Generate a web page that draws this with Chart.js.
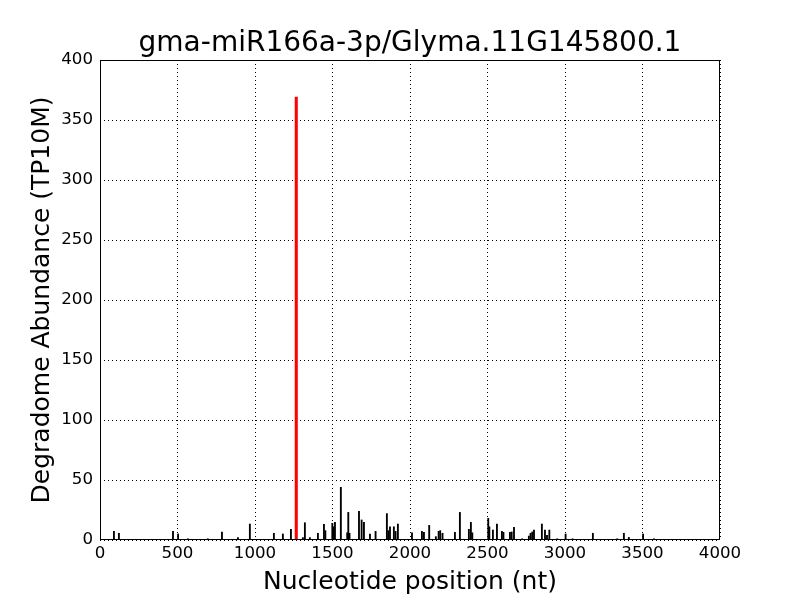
<!DOCTYPE html>
<html>
<head>
<meta charset="utf-8">
<script src="https://cdn.jsdelivr.net/npm/chart.js@4"></script>
<style>
  body { margin: 0; background: #fff; }
</style>
</head>
<body>
<canvas id="plot" width="800" height="600"></canvas>
<script>
// Degradome reads (position in nt, abundance in TP10M)
const positions = [86, 118, 467, 500, 563, 692, 783, 886, 963, 1118, 1176, 1228, 1305, 1318, 1350,
  1402, 1441, 1450, 1495, 1503, 1512, 1550, 1591, 1598, 1606, 1667, 1684, 1699, 1738, 1774,
  1847, 1856, 1867, 1892, 1903, 1918, 2009, 2073, 2086, 2120, 2163, 2181, 2191, 2206,
  2286, 2318, 2376, 2389, 2398, 2501, 2508, 2531, 2557, 2589, 2599, 2641, 2652, 2667,
  2720, 2763, 2774, 2785, 2796, 2847, 2867, 2880, 2895, 2946, 3000, 3045, 3176, 3333,
  3376, 3408, 3500, 3570];
const abundance = [7.2, 5.6, 7.2, 5, 1, 1, 6.7, 2, 13.3, 5.6, 5, 8.9, 2, 14.4, 2,
  5.6, 13, 7.8, 13.9, 11, 14.7, 43.9, 6, 23, 5.6, 23.9, 16.7, 14.7, 5, 7.2,
  22, 7.8, 11, 11, 7.2, 13.3, 6, 7.2, 6.4, 12.2, 2.8, 7.2, 7.8, 5.6,
  6.4, 23, 8.9, 14.7, 6, 18, 11, 8.3, 13.3, 7.2, 6.4, 6.4, 6.7, 10.6,
  1, 3.3, 5.6, 6.7, 8.3, 13.3, 8.3, 3.9, 8.3, 1, 5, 1, 5.6, 1,
  5.6, 2.2, 5, 1];
// cleavage site of the miRNA
const sitePos = [1274];
const siteVal = [369];

const xTicks = [0, 500, 1000, 1500, 2000, 2500, 3000, 3500, 4000];

// box round the plot area, like matplotlib
const frame = {
  id: "frame",
  afterDatasetsDraw(chart) {
    const a = chart.chartArea;
    const ctx = chart.ctx;
    ctx.save();
    ctx.strokeStyle = "#000";
    ctx.lineWidth = 1;
    ctx.strokeRect(a.left + 0.5, a.top + 0.5, a.right - a.left - 1, a.bottom - a.top - 1);
    ctx.restore();
  }
};

const font = "'DejaVu Sans', sans-serif";

new Chart(document.getElementById("plot").getContext("2d"), {
  type: "bar",
  data: {
    datasets: [
      {
        data: positions.map((p, i) => ({ x: p, y: abundance[i] })),
        backgroundColor: "#000",
        barThickness: 1.2,
        order: 2
      },
      {
        data: sitePos.map((p, i) => ({ x: p, y: siteVal[i] })),
        backgroundColor: "#ff0000",
        barThickness: 2.4,
        order: 1
      }
    ]
  },
  options: {
    responsive: false,
    animation: false,
    // title is centred over 20..800, i.e. over the plot area 100..720
    layout: { padding: { left: 20, right: 0, top: 0, bottom: 0 } },
    plugins: {
      legend: { display: false },
      tooltip: { enabled: false },
      title: {
        display: true,
        text: "gma-miR166a-3p/Glyma.11G145800.1",
        color: "#000",
        font: { family: font, size: 28, weight: "normal", lineHeight: 1.15 },
        padding: { top: 27.8, bottom: 0 }
      }
    },
    scales: {
      x: {
        type: "linear",
        min: 0,
        max: 4000,
        offset: false,
        afterBuildTicks: axis => { axis.ticks = xTicks.map(v => ({ value: v })); },
        afterFit: axis => { axis.height = 60; },
        ticks: {
          color: "#000",
          font: { family: font, size: 16.67 },
          padding: 4,
          maxRotation: 0,
          callback: v => String(v)
        },
        grid: { color: "#000", drawTicks: false, offset: false },
        border: { display: false, dash: [1, 3] },
        title: {
          display: true,
          text: "Nucleotide position (nt)",
          color: "#000",
          font: { family: font, size: 25 },
          padding: { top: 0, bottom: 3 }
        }
      },
      y: {
        min: 0,
        max: 400,
        afterFit: axis => { axis.width = 80; },
        ticks: { stepSize: 50, color: "#000", font: { family: font, size: 16.67 }, padding: 7 },
        grid: { color: "#000", drawTicks: false },
        border: { display: false, dash: [1, 3] },
        title: {
          display: true,
          text: "Degradome Abundance (TP10M)",
          color: "#000",
          font: { family: font, size: 25 },
          padding: { top: 7, bottom: 0 }
        }
      },
      // empty right margin
      yRight: {
        position: "right",
        min: 0,
        max: 400,
        afterFit: axis => { axis.width = 80; },
        ticks: { display: false },
        grid: { display: false },
        border: { display: false }
      }
    }
  },
  plugins: [frame]
});
</script>
</body>
</html>
